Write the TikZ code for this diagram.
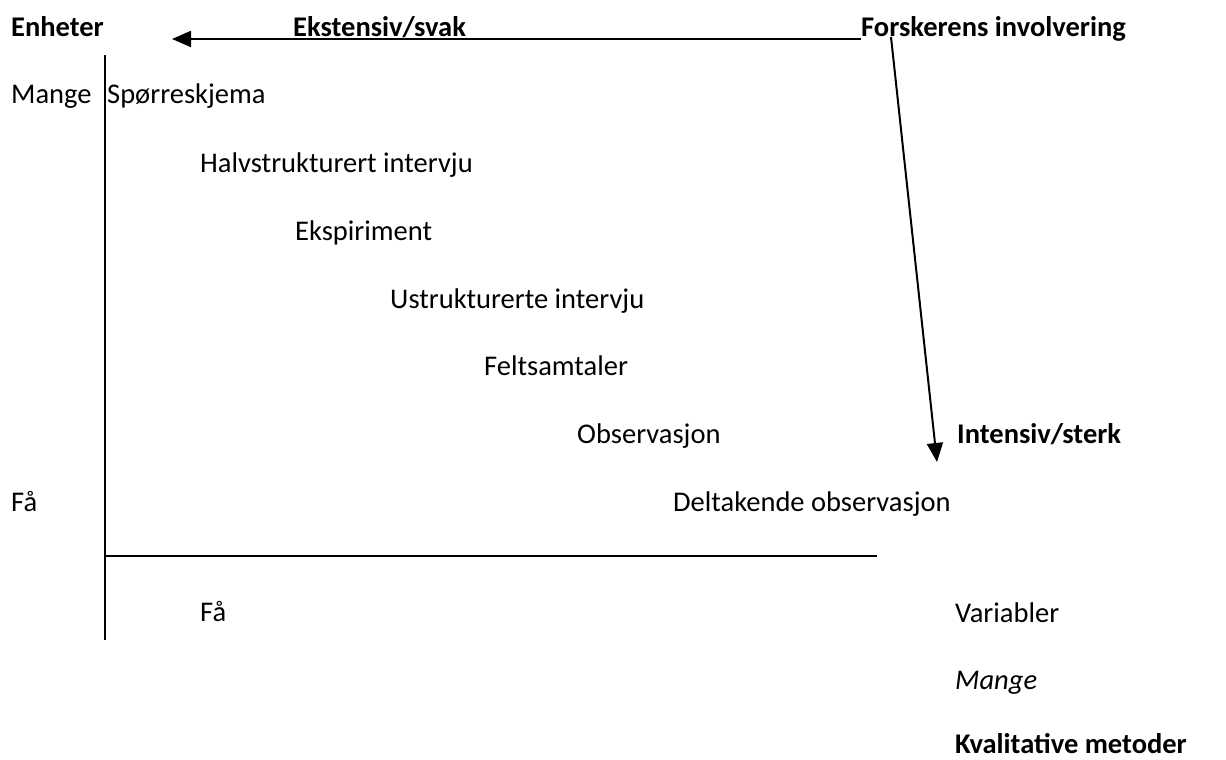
\documentclass[tikz,border=0pt]{standalone}
\usepackage{fontspec}
\setmainfont{Carlito}
\usepackage{tikz}
\usetikzlibrary{arrows.meta, positioning, calc}

\begin{document}
\begin{tikzpicture}[x=1pt, y=-1pt,
            label/.style={anchor=base west, inner sep=0pt, font=\fontsize{28.5}{34}\selectfont},
            head/.style={label, font=\fontsize{28.5}{34}\selectfont\bfseries},
            axis/.style={line width=2pt},
            pointer/.style={line width=2pt, -{Triangle[length=19pt, width=16pt]}}
        ]
            \useasboundingbox (0,0) rectangle (1226,760);

% Headings
            \node[head] (enheter) at (11,37) {Enheter};
            \node[head] (ekstensiv) at (293,37) {Ekstensiv/svak};
            \node[head] (forsker) at (861,37) {Forskerens involvering};
            \node[head] (intensiv) at (957,443) {Intensiv/sterk};

% Axes
            \coordinate (axtop) at (105,55);
            \coordinate (axbot) at (105,640);
            \coordinate (axorig) at (105,556);
            \coordinate (axend) at (877,556);
            \draw[axis] (axtop) -- (axbot);
            \draw[axis] (axorig) -- (axend);

% Axis labels
            \node[label] (mange) at (11,103) {Mange};
            \node[label] (faa) at (11,511) {Få};
            \node[label] (faalow) at (200,621) {Få};
            \node[label] (variabler) at (955,622) {Variabler};
            \node[label, font=\fontsize{28.5}{34}\selectfont\itshape] (mangelow) at (955,689) {Mange};
            \node[head] (kvalitativ) at (955,753) {Kvalitative metoder};

% Methods
            \node[label] (m1) at (107,103) {Spørreskjema};
            \node[label] (m2) at (200,172) {Halvstrukturert intervju};
            \node[label] (m3) at (295,240) {Ekspiriment};
            \node[label] (m4) at (390,308) {Ustrukturerte intervju};
            \node[label] (m5) at (484,375) {Feltsamtaler};
            \node[label] (m6) at (577,443) {Observasjon};
            \node[label] (m7) at (673,511) {Deltakende observasjon};

% Arrows
            \coordinate (lefttip) at (172,39);
            \coordinate (downstart) at (891,37);
            \coordinate (downtip) at (937,462);
            \draw[pointer] (forsker.base west |- lefttip) -- (lefttip);
            \draw[pointer] (downstart) -- (downtip);

        \end{tikzpicture}
\end{document}
